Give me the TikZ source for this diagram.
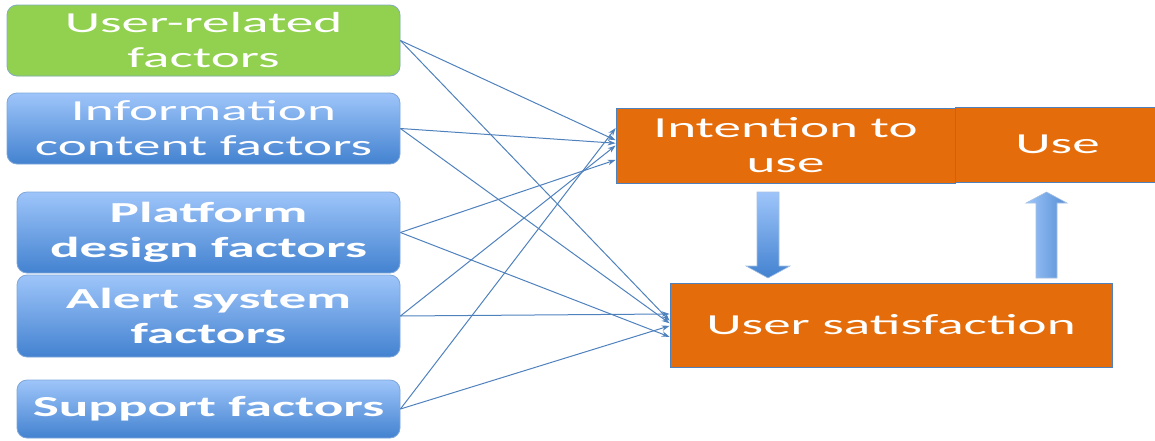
\documentclass[tikz,border=0pt]{standalone}
\usepackage{fontspec}
\setmainfont[FakeStretch=1.9]{Carlito}
\usetikzlibrary{arrows.meta,calc}
\definecolor{linkblue}{HTML}{4F81BD}
\definecolor{boxorange}{HTML}{E46C0A}
\definecolor{leafgreen}{HTML}{92D050}
\definecolor{lightblue}{HTML}{9EC5FA}
\definecolor{deepblue}{HTML}{4382D0}
\definecolor{edgeblue}{HTML}{7EA6D9}
\tikzset{
  factor/.style={rounded corners=10pt, draw=edgeblue, line width=0.8pt,
    top color=lightblue, bottom color=deepblue, text=white, align=center,
    inner sep=0pt, font=\fontsize{29}{35}\selectfont},
  boldfactor/.style={factor, font=\fontsize{29}{35}\selectfont\bfseries},
  greenfactor/.style={factor, fill=leafgreen, top color=leafgreen, bottom color=leafgreen, draw=edgeblue!80!leafgreen},
  outcome/.style={draw=linkblue, line width=0.8pt, fill=boxorange, text=white,
    align=center, inner sep=0pt, font=\fontsize{29}{35}\selectfont},
  link/.style={draw=linkblue, line width=1pt, -{Stealth[length=8pt,width=5.5pt]}},
  blockarrow/.style={draw=edgeblue!70!white, line width=0.6pt}
}
\begin{document}
\begin{tikzpicture}[x=1pt,y=-1pt]
\useasboundingbox (0,0) rectangle (1155,440);

% factor boxes on the left
\node[greenfactor, minimum width=393pt, minimum height=71pt] (ur) at (203.5,40.5) {User-related\\factors};
\node[factor, minimum width=393pt, minimum height=71pt] (ic) at (203.5,128.5) {Information\\content factors};
\node[boldfactor, minimum width=383pt, minimum height=81pt] (pd) at (208.5,232.5) {Platform\\design factors};
\node[boldfactor, minimum width=383pt, minimum height=82pt] (as) at (208.5,316) {Alert system\\factors};
\node[boldfactor, minimum width=383pt, minimum height=58pt] (sf) at (208.5,409) {Support factors};

% outcome boxes on the right
\node[outcome, minimum width=339pt, minimum height=75pt] (iu) at (785.5,145.5) {Intention to\\use};
\node[outcome, minimum width=205pt, minimum height=75pt] (use) at (1057.5,144.5) {Use};
\node[outcome, minimum width=442pt, minimum height=84pt] (us) at (891,325) {User satisfaction};

% arrival points on the left sides of the outcome boxes
\coordinate (iu1) at ($(iu.north west)!0.27!(iu.south west)$);
\coordinate (iu2) at ($(iu.north west)!0.43!(iu.south west)$);
\coordinate (iu3) at ($(iu.north west)!0.47!(iu.south west)$);
\coordinate (iu4) at ($(iu.north west)!0.50!(iu.south west)$);
\coordinate (iu5) at ($(iu.north west)!0.69!(iu.south west)$);
\coordinate (us1) at ($(us.north west)!0.37!(us.south west)$);
\coordinate (us2) at ($(us.north west)!0.45!(us.south west)$);
\coordinate (us3) at ($(us.north west)!0.48!(us.south west)$);
\coordinate (us4) at ($(us.north west)!0.51!(us.south west)$);
\coordinate (us5) at ($(us.north west)!0.64!(us.south west)$);

% factor influences
\draw[link] (ur.east) -- (iu2);
\draw[link] (ur.east) -- (us2);
\draw[link] (ic.east) -- (iu3);
\draw[link] (ic.east) -- (us3);
\draw[link] (pd.east) -- (iu5);
\draw[link] (pd.east) -- (us5);
\draw[link] (as.east) -- (iu4);
\draw[link] (as.east) -- (us1);
\draw[link] (sf.east) -- (iu1);
\draw[link] (sf.east) -- (us4);

% block arrow: intention to use -> user satisfaction
\path[blockarrow, top color=lightblue, bottom color=deepblue]
  (757,192) -- (779,192) -- (779,266) -- (790,266) -- (768,278)
  -- (746,266) -- (757,266) -- cycle;

% block arrow: user satisfaction -> use
\path[blockarrow, left color=lightblue, right color=deepblue!90!white]
  (1036,278) -- (1036,203) -- (1026,203) -- (1046.5,192) -- (1067,203)
  -- (1057,203) -- (1057,278) -- cycle;
\end{tikzpicture}
\end{document}
